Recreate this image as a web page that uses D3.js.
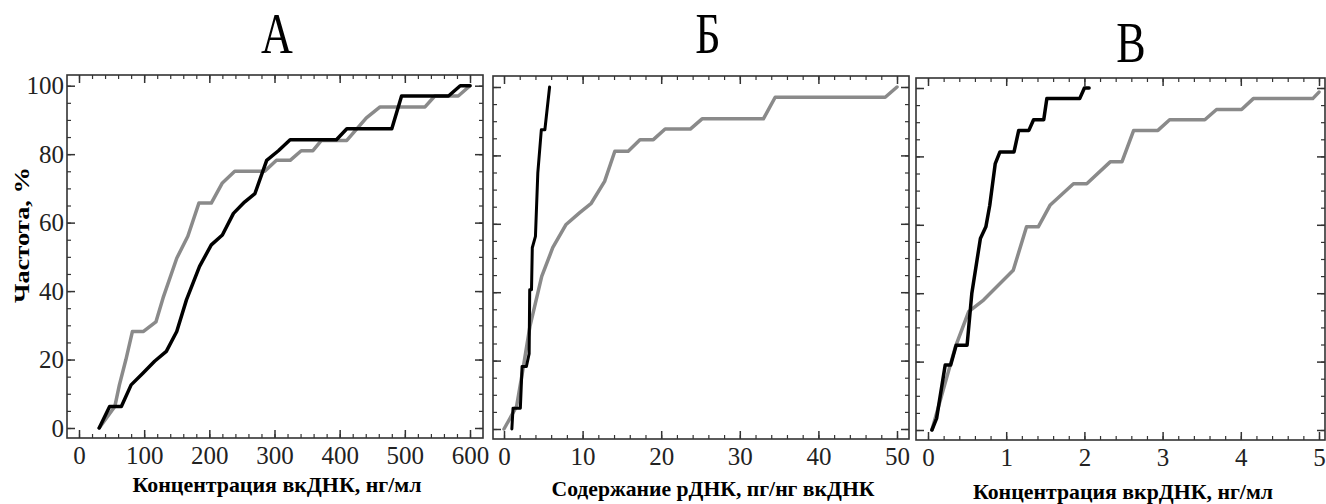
<!DOCTYPE html>
<html>
<head>
<meta charset="utf-8">
<script src="https://cdn.jsdelivr.net/npm/d3@7"></script>
<style>
    body { margin: 0; background: #fff; }
    svg { display: block; }
</style>
</head>
<body>
<div id="output"></div>
<script>
// panel A: вкДНК, нг/мл
const aGrayX = [31, 55, 62, 72, 82, 99, 118, 129, 150, 167, 184, 203, 220, 239, 285, 303, 324, 341, 359, 372, 411, 441, 462, 531, 546, 582, 600];
const aGrayY = [0, 6.3, 12.6, 20, 28.2, 28.2, 31, 38, 49.6, 56, 65.7, 65.7, 71.6, 75, 75, 78.2, 78.2, 81, 81, 84, 84, 90.6, 93.8, 93.8, 97, 97, 100];
const aBlackX = [31, 47, 65, 80, 98, 116, 134, 150, 165, 185, 203, 220, 237, 254, 270, 288, 306, 324, 395, 411, 480, 495, 567, 585, 600];
const aBlackY = [0, 6.3, 6.3, 12.6, 16, 19.5, 22.4, 28.2, 37.5, 47.2, 53.5, 56.4, 62.7, 66, 68.5, 78.2, 81, 84.2, 84.2, 87.4, 87.4, 97, 97, 100, 100];

// panel Б: рДНК, пг/нг вкДНК
const bGrayX = [0, 1.6, 2.4, 3.3, 4.8, 6.2, 7.9, 9.6, 11.1, 12.8, 14.1, 15.8, 17.3, 19, 20.5, 23.7, 25.2, 33, 34.5, 48.5, 50];
const bGrayY = [0, 6.6, 17.3, 30, 44.6, 53, 59.8, 63.2, 66, 72.4, 81.2, 81.2, 84.6, 84.6, 87.7, 87.7, 90.7, 90.7, 97, 97, 100];
const bBlackX = [1.0, 1.15, 2.08, 2.3, 2.85, 3.2, 3.27, 3.5, 3.6, 4.0, 4.3, 4.75, 5.2, 5.8];
const bBlackY = [0, 6.1, 6.1, 18.3, 18.3, 22, 40.7, 40.7, 53, 56.3, 74.8, 87.5, 87.5, 100];

// panel В: вкрДНК, нг/мл
const cGrayX = [0.05, 0.35, 0.52, 0.71, 1.09, 1.26, 1.41, 1.56, 1.86, 2.03, 2.33, 2.48, 2.63, 2.94, 3.09, 3.54, 3.69, 4.01, 4.16, 4.92, 5.0];
const cGrayY = [0, 24.3, 34.6, 38, 46.7, 59.4, 59.4, 65.7, 72, 72, 78.4, 78.4, 87.6, 87.6, 90.7, 90.7, 93.7, 93.7, 96.9, 96.9, 98.8];
const cBlackX = [0.05, 0.11, 0.22, 0.29, 0.36, 0.5, 0.56, 0.67, 0.74, 0.79, 0.86, 0.92, 1.1, 1.16, 1.29, 1.35, 1.48, 1.52, 1.94, 2.0, 2.06];
const cBlackY = [0, 3.4, 19, 19, 24.8, 24.8, 39.9, 56, 59.4, 65.7, 77.9, 81.3, 81.3, 87.6, 87.6, 90.7, 90.7, 96.9, 96.9, 100, 100];

const titles = ["А", "Б", "В"];
const xLabels = ["Концентрация вкДНК, нг/мл", "Содержание рДНК, пг/нг вкДНК", "Концентрация вкрДНК, нг/мл"];
const yLabel = "Частота, %";
const xMax = [600, 50, 5];
const xMajor = [100, 10, 1];
const xMinor = [20, 2, 0.2];
const yTicks = [0, 20, 40, 60, 80, 100];

const grayColor = "#8a8a8a";
const blackColor = "#000";
const frameColor = "#333";
const serif = "Liberation Serif, DejaVu Serif, serif";

function draw() {
    document.getElementById('output').innerHTML = '';
    const W = 1326, H = 504;
    let svg = d3.select("#output").append("svg").attr("width", W).attr("height", H);

    const panels = [
        { left: 67, right: 483, top: 75, bottom: 438, x0: 79, x1: 470, y0: 428, y1: 85.7,
          title: [277, 53], label: [277, 492, 289], series: [[aGrayX, aGrayY], [aBlackX, aBlackY]], yLab: true },
        { left: 493, right: 909, top: 76, bottom: 439, x0: 504, x1: 897, y0: 429, y1: 87,
          title: [708, 53], label: [713, 496, 323], series: [[bGrayX, bGrayY], [bBlackX, bBlackY]], yLab: false },
        { left: 916, right: 1325, top: 78, bottom: 440, x0: 928, x1: 1319, y0: 430, y1: 88,
          title: [1131, 62], label: [1123, 499, 300], series: [[cGrayX, cGrayY], [cBlackX, cBlackY]], yLab: false }
    ];

    function addPanel(p, i) {
        let g = svg.append('g');
        const x = d3.scaleLinear().domain([0, xMax[i]]).range([p.x0, p.x1]);
        const y = d3.scaleLinear().domain([0, 100]).range([p.y0, p.y1]);

        const majX = d3.range(0, xMax[i] + xMajor[i] / 2, xMajor[i]);
        const minX = d3.range(0, xMax[i] + xMinor[i] / 2, xMinor[i]);
        const minY = d3.range(0, 101, 5);

        // minor ticks, all four sides
        const minorAxes = [
            [d3.axisBottom(x).tickValues(minX), `translate(0,${p.bottom})`],
            [d3.axisTop(x).tickValues(minX), `translate(0,${p.top})`],
            [d3.axisLeft(y).tickValues(minY), `translate(${p.left},0)`],
            [d3.axisRight(y).tickValues(minY), `translate(${p.right},0)`]
        ];
        for (let [ax, tr] of minorAxes) {
            let a = g.append('g').attr('transform', tr)
                .call(ax.tickSize(-4).tickFormat(''));
            a.select('.domain').remove();
            a.selectAll('line').attr('stroke', frameColor).attr('stroke-width', 1.2);
        }

        // major ticks
        let bx = g.append('g').attr('transform', `translate(0,${p.bottom})`)
            .call(d3.axisBottom(x).tickValues(majX).tickSize(-8).tickPadding(8).tickFormat(d3.format('')));
        let tx = g.append('g').attr('transform', `translate(0,${p.top})`)
            .call(d3.axisTop(x).tickValues(majX).tickSize(-8).tickFormat(''));
        let ly = g.append('g').attr('transform', `translate(${p.left},0)`)
            .call(d3.axisLeft(y).tickValues(yTicks).tickSize(-8).tickPadding(3)
                .tickFormat(p.yLab ? d3.format('') : ''));
        let ry = g.append('g').attr('transform', `translate(${p.right},0)`)
            .call(d3.axisRight(y).tickValues(yTicks).tickSize(-8).tickFormat(''));
        for (let a of [bx, tx, ly, ry]) {
            a.attr('font-family', serif);
            a.select('.domain').remove();
            a.selectAll('line').attr('stroke', frameColor).attr('stroke-width', 1.5);
            a.selectAll('text')
                .style('font-family', serif)
                .style('font-size', '25px')
                .attr('fill', '#222');
        }

        g.append('rect')
            .attr('x', p.left).attr('y', p.top)
            .attr('width', p.right - p.left).attr('height', p.bottom - p.top)
            .attr('fill', 'none')
            .attr('stroke', frameColor)
            .attr('stroke-width', 1.6);

        const line = d3.line().x(d => x(d[0])).y(d => y(d[1]));
        const colors = [grayColor, blackColor];
        for (let k in p.series) {
            let xs = p.series[k][0], ys = p.series[k][1];
            let pts = xs.map((v, j) => [v, ys[j]]);
            g.append('path')
                .datum(pts)
                .attr('d', line)
                .attr('fill', 'none')
                .attr('stroke', colors[k])
                .attr('stroke-width', (i == 1 && k == 1) ? 3 : 3.5)
                .attr('stroke-linejoin', 'round')
                .attr('stroke-linecap', 'round');
        }

        g.append('text')
            .attr('transform', `translate(${p.title[0]},${p.title[1]}) scale(0.76,1)`)
            .style('font-family', serif)
            .style('font-size', '58px')
            .style('text-anchor', 'middle')
            .attr('fill', '#000')
            .text(titles[i]);

        g.append('text')
            .attr('x', p.label[0] - p.label[2] / 2)
            .attr('y', p.label[1])
            .attr('textLength', p.label[2])
            .attr('lengthAdjust', 'spacingAndGlyphs')
            .style('font-family', serif)
            .style('font-size', '22px')
            .style('font-weight', 'bold')
            .attr('fill', '#000')
            .text(xLabels[i]);
    }

    panels.forEach(addPanel);

    svg.append('text')
        .attr('transform', 'translate(29,235) rotate(-90)')
        .attr('x', -68)
        .attr('textLength', 136)
        .attr('lengthAdjust', 'spacingAndGlyphs')
        .style('font-family', serif)
        .style('font-size', '22px')
        .style('font-weight', 'bold')
        .attr('fill', '#000')
        .text(yLabel);
}

draw();
</script>
</body>
</html>
